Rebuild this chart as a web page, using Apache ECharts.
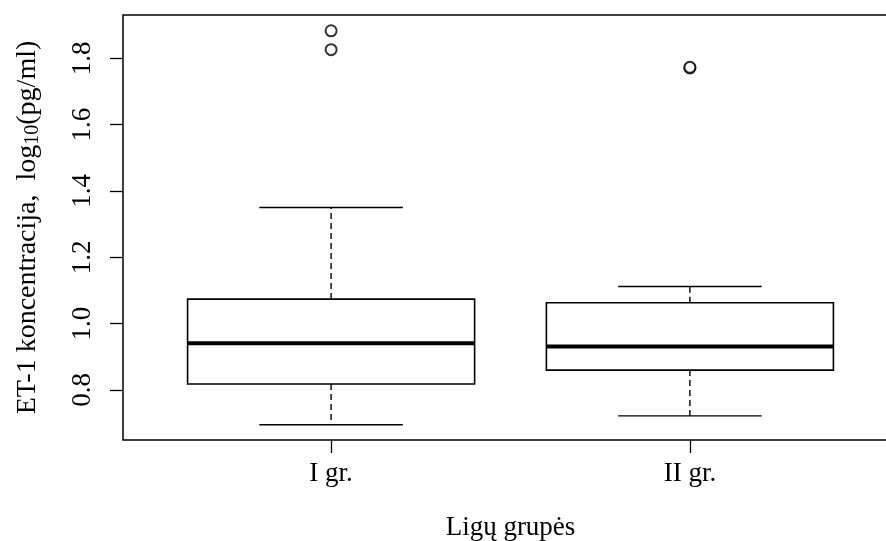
<!DOCTYPE html>
<html>
<head>
<meta charset="utf-8">
<script src="https://cdn.jsdelivr.net/npm/echarts@6/dist/echarts.min.js"></script>
<style>
  html, body {margin: 0; padding: 0; background: #fff;}
  #chart {width: 886px; height: 541px;}
</style>
</head>
<body>
<div id="chart"></div>
<script>
// grupės ir boxplot statistika (log10 pg/ml)
const groups = ['I gr.', 'II gr.'];
const lowerWhisker = [0.695, 0.722];
const q1 = [0.818, 0.860];
const median = [0.941, 0.931];
const q3 = [1.074, 1.063];
const upperWhisker = [1.350, 1.112];
const outliersI = [1.883, 1.826];
const outliersII = [1.771, 1.773];
const yTicks = [0.8, 1.0, 1.2, 1.4, 1.6, 1.8];

const font = 'Liberation Serif';
const boxData = groups.map((g, i) => [i + 1, lowerWhisker[i], q1[i], median[i], q3[i], upperWhisker[i]]);
const outlierData = [
  ...outliersI.map(v => [1, v]),
  ...outliersII.map(v => [2, v]),
];

function renderBox(params, api) {
  const x = api.value(0);
  const lo = api.value(1), a = api.value(2), m = api.value(3), b = api.value(4), hi = api.value(5);
  const half = 0.4, staple = 0.2;
  const p = (xv, yv) => api.coord([xv, yv]);
  const tl = p(x - half, b), br = p(x + half, a);
  const line = (x1, y1, x2, y2, style) => ({
    type: 'line',
    shape: {x1, y1, x2, y2},
    style: Object.assign({stroke: '#000', lineWidth: 1.4}, style)
  });
  const c = p(x, 0)[0];
  const yLo = p(x, lo)[1], yA = p(x, a)[1], yM = p(x, m)[1], yB = p(x, b)[1], yHi = p(x, hi)[1];
  const sl = p(x - staple, 0)[0], sr = p(x + staple, 0)[0];
  return {
    type: 'group',
    children: [
      line(c, yB, c, yHi, {lineDash: [6, 4]}),
      line(c, yA, c, yLo, {lineDash: [6, 4]}),
      line(sl, yHi, sr, yHi),
      line(sl, yLo, sr, yLo),
      {
        type: 'rect',
        shape: {x: tl[0], y: tl[1], width: br[0] - tl[0], height: br[1] - tl[1]},
        style: {fill: '#fff', stroke: '#000', lineWidth: 1.6}
      },
      line(tl[0], yM, br[0], yM, {lineWidth: 4})
    ]
  };
}

const chart = echarts.init(document.getElementById('chart'));
chart.setOption({
  backgroundColor: '#fff',
  animation: false,
  grid: {
    left: 123, top: 15, width: 775, height: 425,
    outerBoundsMode: 'none',
    containLabel: false,
    show: true, borderColor: '#000', borderWidth: 1.5, backgroundColor: 'transparent'
  },
  xAxis: {
    type: 'value',
    min: 0.42,
    max: 2.58,
    name: 'Ligų grupės',
    nameLocation: 'middle',
    nameGap: 74,
    nameTextStyle: {fontFamily: font, fontSize: 27, color: '#000'},
    axisLine: {show: false},
    splitLine: {show: false},
    axisTick: {show: true, customValues: [1, 2], length: 13, lineStyle: {color: '#000', width: 1.3}},
    axisLabel: {
      customValues: [1, 2],
      formatter: v => groups[Math.round(v) - 1],
      fontFamily: font, fontSize: 27, color: '#000', margin: 20
    }
  },
  yAxis: {
    type: 'value',
    min: 0.6492,
    max: 1.9306,
    name: 'ET-1 koncentracija,  log{sub|10}(pg/ml)',
    nameLocation: 'middle',
    nameRotate: 90,
    nameGap: 80,
    nameTextStyle: {
      fontFamily: font, fontSize: 28, color: '#000',
      rich: {sub: {fontFamily: font, fontSize: 20, color: '#000', padding: [10, 0, 0, 0]}}
    },
    axisLine: {show: false},
    splitLine: {show: false},
    axisTick: {show: true, customValues: yTicks, length: 13, lineStyle: {color: '#000', width: 1.3}},
    axisLabel: {
      customValues: yTicks,
      formatter: v => v.toFixed(1),
      rotate: 90,
      fontFamily: font, fontSize: 27, color: '#000', margin: 27
    }
  },
  series: [
    {
      type: 'custom',
      renderItem: renderBox,
      encode: {x: 0, y: [1, 2, 3, 4, 5]},
      data: boxData,
      silent: true
    },
    {
      type: 'scatter',
      symbol: 'emptyCircle',
      symbolSize: 11,
      itemStyle: {color: '#000', borderColor: '#000', borderWidth: 2},
      data: outlierData,
      silent: true
    }
  ]
});
</script>
</body>
</html>
